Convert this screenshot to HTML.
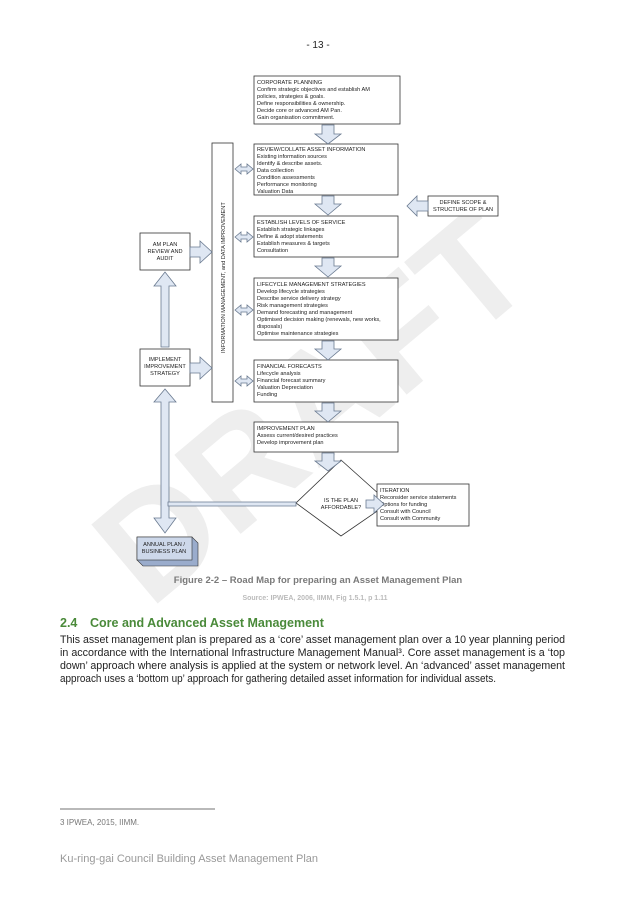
<!DOCTYPE html>
<html><head><meta charset="utf-8"><style>
html,body{margin:0;padding:0;background:#fff;}
body{width:637px;height:901px;overflow:hidden;position:relative;font-family:"Liberation Sans",sans-serif;}
svg{position:absolute;left:0;top:0;}
.t{font-family:"Liberation Sans",sans-serif;font-size:5.6px;fill:#222;}
.b{fill:#fff;stroke:#333;stroke-width:0.8;}
.ar{fill:#dfe7f3;stroke:#6a7a90;stroke-width:0.8;}
</style></head><body>
<svg width="637" height="901" viewBox="0 0 637 901">
<!-- watermark -->
<g fill="#eeeeee" font-family="Liberation Sans" font-weight="bold" font-size="150" transform="translate(150,610) rotate(-40)">
<text x="0" y="0">DRAFT</text>
</g>
<text x="318" y="48" text-anchor="middle" font-size="10" fill="#222" font-family="Liberation Sans">- 13 -</text>

<!-- boxes -->
<rect class="b" x="254" y="76" width="146" height="48"/>
<text class="t" x="257" y="84">CORPORATE PLANNING</text>
<text class="t" x="257" y="91">Confirm strategic objectives and establish AM</text>
<text class="t" x="257" y="98">policies, strategies &amp; goals.</text>
<text class="t" x="257" y="105">Define responsibilities &amp; ownership.</text>
<text class="t" x="257" y="112">Decide core or advanced AM Pan.</text>
<text class="t" x="257" y="119">Gain organisation commitment.</text>

<rect class="b" x="254" y="144" width="144" height="51"/>
<text class="t" x="257" y="151">REVIEW/COLLATE ASSET INFORMATION</text>
<text class="t" x="257" y="158">Existing information sources</text>
<text class="t" x="257" y="165">Identify &amp; describe assets.</text>
<text class="t" x="257" y="172">Data collection</text>
<text class="t" x="257" y="179">Condition assessments</text>
<text class="t" x="257" y="186">Performance monitoring</text>
<text class="t" x="257" y="193">Valuation Data</text>

<rect class="b" x="254" y="216" width="144" height="41"/>
<text class="t" x="257" y="224">ESTABLISH LEVELS OF SERVICE</text>
<text class="t" x="257" y="231">Establish strategic linkages</text>
<text class="t" x="257" y="238">Define &amp; adopt statements</text>
<text class="t" x="257" y="245">Establish measures &amp; targets</text>
<text class="t" x="257" y="252">Consultation</text>

<rect class="b" x="254" y="278" width="144" height="62"/>
<text class="t" x="257" y="286">LIFECYCLE MANAGEMENT STRATEGIES</text>
<text class="t" x="257" y="293">Develop lifecycle strategies</text>
<text class="t" x="257" y="300">Describe service delivery strategy</text>
<text class="t" x="257" y="307">Risk management strategies</text>
<text class="t" x="257" y="314">Demand forecasting and management</text>
<text class="t" x="257" y="321">Optimised decision making (renewals, new works,</text>
<text class="t" x="257" y="328">disposals)</text>
<text class="t" x="257" y="335">Optimise maintenance strategies</text>

<rect class="b" x="254" y="360" width="144" height="42"/>
<text class="t" x="257" y="368">FINANCIAL FORECASTS</text>
<text class="t" x="257" y="375">Lifecycle analysis</text>
<text class="t" x="257" y="382">Financial forecast summary</text>
<text class="t" x="257" y="389">Valuation Depreciation</text>
<text class="t" x="257" y="396">Funding</text>

<rect class="b" x="254" y="422" width="144" height="30"/>
<text class="t" x="257" y="430">IMPROVEMENT PLAN</text>
<text class="t" x="257" y="437">Assess current/desired practices</text>
<text class="t" x="257" y="444">Develop improvement plan</text>

<!-- diamond -->
<polygon class="b" points="341,460 389,503 341,536 296,503"/>
<text class="t" x="341" y="502" text-anchor="middle">IS THE PLAN</text>
<text class="t" x="341" y="509" text-anchor="middle">AFFORDABLE?</text>

<rect class="b" x="377" y="484" width="92" height="42"/>
<text class="t" x="380" y="492">ITERATION</text>
<text class="t" x="380" y="499">Reconsider service statements</text>
<text class="t" x="380" y="506">Options for funding</text>
<text class="t" x="380" y="513">Consult with Council</text>
<text class="t" x="380" y="520">Consult with Community</text>

<!-- info bar -->
<rect class="b" x="212" y="143" width="21" height="259"/>
<text class="t" transform="translate(225,353) rotate(-90)">INFORMATION MANAGEMENT, and DATA IMPROVEMENT</text>

<rect class="b" x="428" y="196" width="70" height="20"/>
<text class="t" x="463" y="204" text-anchor="middle">DEFINE SCOPE &amp;</text>
<text class="t" x="463" y="211" text-anchor="middle">STRUCTURE OF PLAN</text>

<rect class="b" x="140" y="233" width="50" height="37"/>
<text class="t" x="165" y="246" text-anchor="middle">AM PLAN</text>
<text class="t" x="165" y="253" text-anchor="middle">REVIEW AND</text>
<text class="t" x="165" y="260" text-anchor="middle">AUDIT</text>

<rect class="b" x="140" y="349" width="50" height="37"/>
<text class="t" x="165" y="361" text-anchor="middle">IMPLEMENT</text>
<text class="t" x="165" y="368" text-anchor="middle">IMPROVEMENT</text>
<text class="t" x="165" y="375" text-anchor="middle">STRATEGY</text>

<!-- annual plan 3D -->
<polygon points="137,537 192,537 198,543 198,566 143,566 137,560" fill="#9aaccc" stroke="#333" stroke-width="0.6"/>
<rect x="137" y="537" width="55" height="23" fill="#cdd8ea" stroke="#333" stroke-width="0.6"/>
<text class="t" x="164" y="546" text-anchor="middle">ANNUAL PLAN /</text>
<text class="t" x="164" y="553" text-anchor="middle">BUSINESS PLAN</text>

<!-- arrows -->
<g class="ar">
<path d="M322,125 h12 v9 h7 l-13,10 l-13,-10 h7 z"/>
<path d="M322,196 h12 v8 h7 l-13,11 l-13,-11 h7 z"/>
<path d="M322,258 h12 v8 h7 l-13,11 l-13,-11 h7 z"/>
<path d="M322,341 h12 v8 h7 l-13,11 l-13,-11 h7 z"/>
<path d="M322,403 h12 v8 h7 l-13,11 l-13,-11 h7 z"/>
<path d="M322,453 h12 v8 h7 l-13,10 l-13,-10 h7 z"/>
<path d="M428,201 h-11 v-5 l-10,10 l10,10 v-5 h11 z"/>
<path d="M190,247 h10 v-6 l12,11 l-12,11 v-6 h-10 z"/>
<path d="M190,363 h10 v-6 l12,11 l-12,11 v-6 h-10 z"/>
<path d="M366,500 h8 v-5 l10,9 l-10,9 v-5 h-8 z"/>
<path d="M235,169 l6,-5 v3 h6 v-3 l6,5 l-6,5 v-3 h-6 v3 z"/>
<path d="M235,237 l6,-5 v3 h6 v-3 l6,5 l-6,5 v-3 h-6 v3 z"/>
<path d="M235,310 l6,-5 v3 h6 v-3 l6,5 l-6,5 v-3 h-6 v3 z"/>
<path d="M235,381 l6,-5 v3 h6 v-3 l6,5 l-6,5 v-3 h-6 v3 z"/>
<path d="M161,347 v-61 h-7 l11,-14 l11,14 h-7 v61 z"/>
<path d="M161,402 h-7 l11,-13 l11,13 h-7 v116 h7 l-11,15 l-11,-15 h7 z"/>
<path d="M168,502 h128 v4 h-128 z"/>
</g>

<text x="318" y="583" text-anchor="middle" font-size="9.5" font-weight="bold" fill="#7a7a7a" font-family="Liberation Sans">Figure 2-2 – Road Map for preparing an Asset Management Plan</text>
<text x="315" y="600" text-anchor="middle" font-size="7" font-weight="bold" fill="#bbb" font-family="Liberation Sans">Source: IPWEA, 2006, IIMM, Fig 1.5.1, p 1.11</text>

<text x="60" y="627" font-size="12.5" font-weight="bold" fill="#4a8a3a" font-family="Liberation Sans">2.4<tspan x="90">Core and Advanced Asset Management</tspan></text>
<g font-size="10.6" fill="#222" font-family="Liberation Sans">
<text x="60" y="643" textLength="505" lengthAdjust="spacingAndGlyphs">This asset management plan is prepared as a ‘core’ asset management plan over a 10 year planning period</text>
<text x="60" y="656" textLength="505" lengthAdjust="spacingAndGlyphs">in accordance with the International Infrastructure Management Manual³.  Core asset management is a ‘top</text>
<text x="60" y="669" textLength="505" lengthAdjust="spacingAndGlyphs">down’ approach where analysis is applied at the system or network level. An ‘advanced’ asset management</text>
<text x="60" y="682" textLength="436" lengthAdjust="spacingAndGlyphs">approach uses a ‘bottom up’ approach for gathering detailed asset information for individual assets.</text>
</g>
<line x1="60" y1="809" x2="215" y2="809" stroke="#444" stroke-width="0.7"/>
<text x="60" y="825" font-size="8" fill="#777" font-family="Liberation Sans">3 IPWEA, 2015, IIMM.</text>
<text x="60" y="862" font-size="11" fill="#999" font-family="Liberation Sans">Ku-ring-gai Council Building Asset Management Plan</text>
</svg>
</body></html>
